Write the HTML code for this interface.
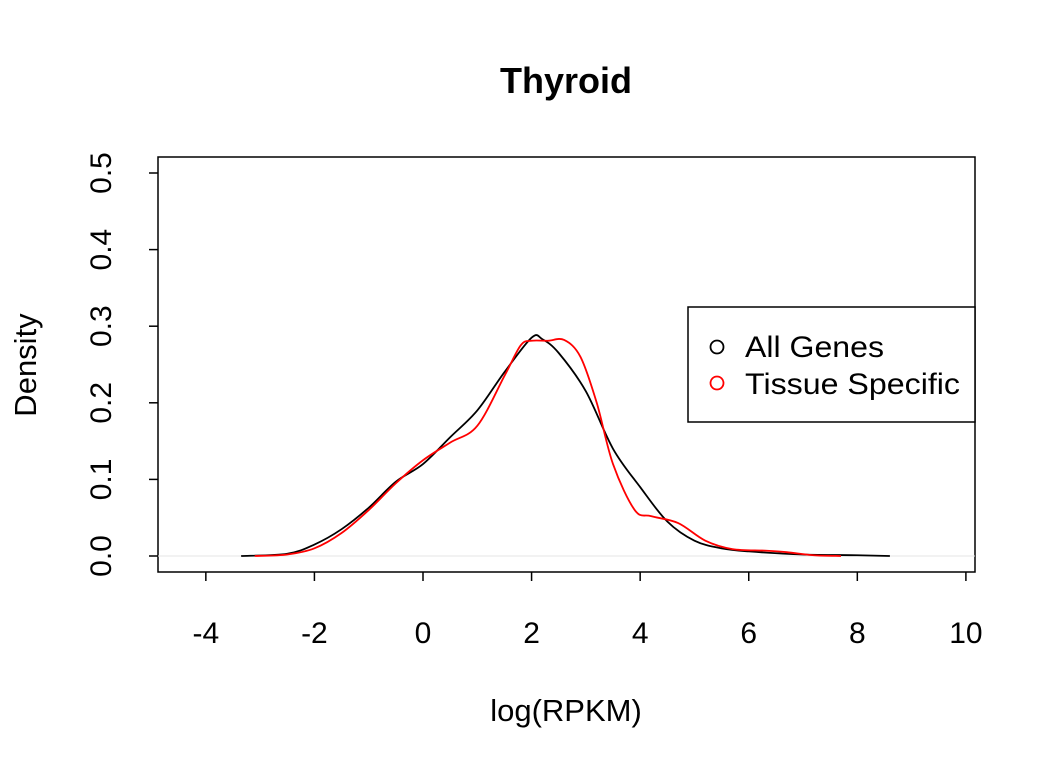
<!DOCTYPE html>
<html><head><style>html,body{margin:0;padding:0;background:#fff}</style></head>
<body>
<svg id="s" width="1056" height="768" xmlns="http://www.w3.org/2000/svg" font-family="Liberation Sans, Arial, sans-serif">
<rect width="1056" height="768" fill="#fff"/>
<text x="566" y="93" font-size="36" font-weight="bold" text-anchor="middle">Thyroid</text>
<rect x="158" y="157" width="817" height="415" fill="none" stroke="#000" stroke-width="1.5"/>
<g id="ax" stroke="#000" stroke-width="1.5"></g>
<g id="lab" font-size="30"></g>
<text x="566" y="721" font-size="31" text-anchor="middle">log(RPKM)</text>
<text transform="translate(36,365) rotate(-90)" font-size="31" text-anchor="middle">Density</text>
<line x1="158" y1="556" x2="975" y2="556" stroke="#e6e6e6" stroke-width="1"/>
<path id="blk" fill="none" stroke="#000" stroke-width="1.8"/>
<path id="red" fill="none" stroke="#f00" stroke-width="1.8"/>
<rect x="688" y="307" width="287" height="115" fill="#fff" stroke="#000" stroke-width="1.5"/>
<circle cx="717" cy="347" r="6.5" fill="none" stroke="#000" stroke-width="1.8"/>
<circle cx="717" cy="383" r="6.5" fill="none" stroke="#f00" stroke-width="1.8"/>
<text x="745" y="357" font-size="30" textLength="139" lengthAdjust="spacingAndGlyphs">All Genes</text>
<text x="745" y="394" font-size="30" textLength="215" lengthAdjust="spacingAndGlyphs">Tissue Specific</text>
</svg>
<script>
var X=function(v){return 423+v*54.29},Y=function(v){return 556-v*766};
var ax=document.getElementById('ax'),lab=document.getElementById('lab'),ns='http://www.w3.org/2000/svg';
function el(p,t,a,txt){var e=document.createElementNS(ns,t);for(var k in a)e.setAttribute(k,a[k]);if(txt!==undefined)e.textContent=txt;p.appendChild(e);}
for(var v=-4;v<=10;v+=2){el(ax,'line',{x1:X(v),x2:X(v),y1:572,y2:581});el(lab,'text',{x:X(v),y:643,'text-anchor':'middle'},String(v));}
for(var i=0;i<=5;i++){var y=Y(i/10);el(ax,'line',{x1:149,x2:158,y1:y,y2:y});el(lab,'text',{transform:'translate(111,'+y+') rotate(-90)','text-anchor':'middle'},(i/10).toFixed(1));}
function path(pts){var p=pts.map(function(a){return[X(a[0]),Y(a[1])]});var d='M'+p[0][0]+','+p[0][1];
for(var i=0;i<p.length-1;i++){var p0=p[i-1]||p[i],p1=p[i],p2=p[i+1],p3=p[i+2]||p2;
d+=' C'+(p1[0]+(p2[0]-p0[0])/6)+','+(p1[1]+(p2[1]-p0[1])/6)+' '+(p2[0]-(p3[0]-p1[0])/6)+','+(p2[1]-(p3[1]-p1[1])/6)+' '+p2[0]+','+p2[1];}return d;}
document.getElementById('blk').setAttribute('d',path([[-3.35,0],[-2.5,0.003],[-2,0.015],[-1.5,0.035],[-1,0.063],[-0.5,0.097],[0,0.12],[0.5,0.155],[1,0.19],[1.5,0.24],[2,0.285],[2.2,0.283],[2.5,0.265],[3,0.215],[3.5,0.14],[4,0.09],[4.5,0.045],[5,0.02],[5.5,0.01],[6,0.006],[7,0.002],[8,0.001],[8.6,0]]));
document.getElementById('red').setAttribute('d',path([[-3.1,0],[-2.5,0.002],[-2,0.01],[-1.5,0.03],[-1,0.06],[-0.5,0.095],[0,0.125],[0.5,0.148],[1,0.17],[1.5,0.235],[1.8,0.275],[2,0.281],[2.3,0.281],[2.6,0.282],[2.9,0.26],[3.2,0.2],[3.5,0.12],[3.9,0.06],[4.2,0.052],[4.7,0.043],[5.2,0.02],[5.7,0.009],[6.3,0.007],[6.7,0.005],[7.2,0.001],[7.7,0]]));
</script>
</body></html>
